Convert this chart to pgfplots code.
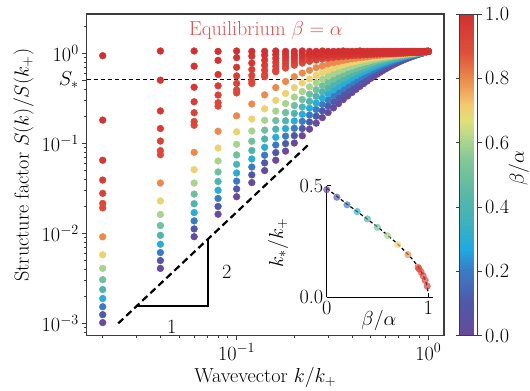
\RequirePackage{fix-cm}
\documentclass[border=0pt]{standalone}
\usepackage{pgfplots}
\usepackage{pgfplotstable}
\pgfplotsset{compat=1.18}

\definecolor{eqred}{RGB}{221,82,82}
\definecolor{spine}{RGB}{60,60,60}

% spectral-like map for beta/alpha
\pgfplotsset{
  colormap={spec}{[1pt]
    rgb255(0pt)=(104,74,156)
    rgb255(10pt)=(80,88,168)
    rgb255(20pt)=(60,122,196)
    rgb255(27pt)=(30,170,226)
    rgb255(35pt)=(62,176,188)
    rgb255(45pt)=(92,185,165)
    rgb255(55pt)=(132,200,150)
    rgb255(62pt)=(182,216,140)
    rgb255(67pt)=(226,224,120)
    rgb255(72pt)=(243,200,110)
    rgb255(80pt)=(234,138,76)
    rgb255(88pt)=(222,80,60)
    rgb255(100pt)=(210,48,48)
  }
}

% S(k)/S(k_+) for each beta/alpha (columns), wavevector k/k_+ in first column
\pgfplotstableread{
k b00 b10 b20 b30 b40 b50 b60 b70 b80 b90 b91 b93 b95 b97 b99 b100
0.02 0.00102 0.00125 0.00153 0.00189 0.00238 0.00306 0.00408 0.00577 0.00915 0.0192 0.0215 0.0278 0.0391 0.0649 0.181 0.94
0.04 0.00408 0.00499 0.00612 0.00757 0.00950 0.0122 0.0162 0.0229 0.0362 0.0747 0.0830 0.106 0.146 0.229 0.502 1.06
0.06 0.00918 0.0112 0.01375 0.0170 0.0213 0.0273 0.0362 0.0509 0.0794 0.1586 0.1748 0.2188 0.2894 0.4197 0.7194 1.06
0.08 0.0163 0.0199 0.0244 0.0301 0.0377 0.0481 0.0636 0.0886 0.1360 0.2587 0.2824 0.3437 0.4349 0.5811 0.8343 1.05
0.10 0.0255 0.0311 0.0380 0.0468 0.0584 0.0743 0.0975 0.1343 0.2019 0.3626 0.3915 0.4629 0.5607 0.6990 0.8951 1.06
0.12 0.0366 0.0446 0.0545 0.0670 0.0832 0.1053 0.1369 0.1863 0.2732 0.4613 0.4920 0.5662 0.6602 0.7806 0.9296 1.05
0.14 0.0498 0.0606 0.0738 0.0903 0.1116 0.1401 0.1804 0.2416 0.3451 0.5487 0.5799 0.6508 0.7359 0.8371 0.9505 1.05
0.16 0.0649 0.0788 0.0957 0.1167 0.1435 0.1789 0.2278 0.3000 0.4158 0.6235 0.6529 0.7180 0.7925 0.8757 0.9635 1.06
0.18 0.0819 0.0992 0.1201 0.1456 0.1777 0.2196 0.2764 0.3578 0.4855 0.6853 0.7128 0.7712 0.8354 0.9034 0.9725 1.05
0.20 0.1007 0.1217 0.1467 0.1770 0.2147 0.2627 0.3264 0.4146 0.5489 0.7369 0.7612 0.8119 0.8669 0.9234 0.9786 1.05
0.22 0.1214 0.1461 0.1753 0.2101 0.2527 0.3065 0.3756 0.4691 0.6035 0.7788 0.8004 0.8450 0.8913 0.9386 0.9827 1.06
0.24 0.1437 0.1723 0.2057 0.2450 0.2923 0.3511 0.4240 0.5195 0.6460 0.8126 0.8325 0.8710 0.9105 0.9496 0.9860 1.05
0.26 0.1676 0.2001 0.2375 0.2807 0.3322 0.3943 0.4706 0.5678 0.6919 0.8408 0.8577 0.8915 0.9252 0.9583 0.9885 1.05
0.28 0.1929 0.2293 0.2705 0.3176 0.3727 0.4367 0.5144 0.6098 0.7257 0.8641 0.8785 0.9078 0.9373 0.9649 0.9904 1.06
0.30 0.2197 0.2596 0.3043 0.3545 0.4118 0.4781 0.5566 0.6508 0.7622 0.8829 0.8959 0.9215 0.9476 0.9702 0.9920 1.05
0.32 0.2473 0.2909 0.3386 0.3919 0.4502 0.5176 0.5947 0.6844 0.7866 0.8985 0.9102 0.9324 0.9545 0.9752 0.9932 1.05
0.34 0.2762 0.3228 0.3731 0.4280 0.4879 0.5556 0.6318 0.7185 0.8120 0.9120 0.9215 0.9407 0.9605 0.9784 0.9942 1.05
0.36 0.3058 0.3552 0.4076 0.4636 0.5241 0.5908 0.6638 0.7449 0.8328 0.9232 0.9321 0.9482 0.9655 0.9811 0.9950 1.06
0.38 0.3361 0.3878 0.4419 0.4985 0.5589 0.6245 0.6954 0.7731 0.8520 0.9325 0.9404 0.9543 0.9697 0.9834 0.9957 1.05
0.40 0.3671 0.4206 0.4755 0.5323 0.5915 0.6546 0.7216 0.7936 0.8676 0.9408 0.9480 0.9598 0.9735 0.9854 0.9962 1.05
0.42 0.3980 0.4531 0.5086 0.5650 0.6232 0.6833 0.7490 0.8140 0.8825 0.9471 0.9537 0.9642 0.9763 0.9870 0.9967 1.05
0.44 0.4291 0.4852 0.5407 0.5960 0.6523 0.7077 0.7709 0.8324 0.8946 0.9535 0.9590 0.9684 0.9792 0.9885 0.9971 1.06
0.46 0.4603 0.5168 0.5717 0.6260 0.6805 0.7348 0.7936 0.8492 0.9060 0.9586 0.9635 0.9719 0.9814 0.9898 0.9974 1.05
0.48 0.4914 0.5476 0.6018 0.6539 0.7056 0.7580 0.8108 0.8640 0.9152 0.9636 0.9677 0.9753 0.9836 0.9910 0.9977 1.05
0.50 0.5250 0.5811 0.6343 0.6853 0.7353 0.7853 0.8337 0.8830 0.9303 0.9733 0.9775 0.9839 0.9914 0.9981 1.0043 1.05
0.52 0.5557 0.6110 0.6624 0.7108 0.7578 0.8042 0.8503 0.8958 0.9388 0.9776 0.9817 0.9872 0.9938 0.9998 1.0052 1.05
0.54 0.5857 0.6399 0.6894 0.7358 0.7806 0.8242 0.8658 0.9075 0.9467 0.9814 0.9850 0.9901 0.9960 1.0013 1.0063 1.05
0.56 0.6151 0.6675 0.7150 0.7585 0.8002 0.8403 0.8800 0.9181 0.9534 0.9851 0.9881 0.9929 0.9982 1.0028 1.0074 1.05
0.58 0.6438 0.6943 0.7394 0.7812 0.8202 0.8581 0.8929 0.9279 0.9601 0.9885 0.9911 0.9954 1.0003 1.0044 1.0086 1.05
0.60 0.6717 0.7201 0.7627 0.8013 0.8370 0.8719 0.9051 0.9367 0.9659 0.9919 0.9941 0.9981 1.0024 1.0060 1.0097 1.05
0.62 0.6988 0.7447 0.7846 0.8214 0.8548 0.8875 0.9163 0.9452 0.9713 0.9948 0.9969 1.0005 1.0043 1.0076 1.0110 1.05
0.64 0.7250 0.7681 0.8056 0.8389 0.8692 0.8991 0.9268 0.9530 0.9760 0.9978 0.9997 1.0029 1.0063 1.0093 1.0122 1.05
0.66 0.7502 0.7907 0.8255 0.8569 0.8854 0.9128 0.9365 0.9605 0.9815 1.0008 1.0025 1.0053 1.0083 1.0110 1.0136 1.05
0.68 0.7741 0.8121 0.8444 0.8724 0.8985 0.9230 0.9457 0.9675 0.9864 1.0037 1.0052 1.0077 1.0103 1.0127 1.0150 1.05
0.70 0.7973 0.8326 0.8622 0.8888 0.9127 0.9353 0.9543 0.9739 0.9913 1.0064 1.0077 1.0100 1.0124 1.0145 1.0165 1.05
0.72 0.8192 0.8519 0.8791 0.9024 0.9239 0.9441 0.9625 0.9801 0.9958 1.0091 1.0103 1.0123 1.0144 1.0163 1.0181 1.05
0.74 0.8408 0.8706 0.8952 0.9170 0.9367 0.9551 0.9702 0.9861 0.9996 1.0116 1.0128 1.0145 1.0164 1.0181 1.0197 1.05
0.76 0.8612 0.8882 0.9106 0.9290 0.9466 0.9629 0.9776 0.9919 1.0039 1.0141 1.0151 1.0170 1.0185 1.0200 1.0214 1.05
0.78 0.8809 0.9054 0.9250 0.9428 0.9582 0.9730 0.9845 0.9972 1.0079 1.0169 1.0178 1.0194 1.0206 1.0220 1.0232 1.05
0.80 0.8996 0.9207 0.9390 0.9540 0.9670 0.9800 0.9913 1.0024 1.0118 1.0199 1.0206 1.0219 1.0230 1.0241 1.0251 1.05
0.82 0.9176 0.9363 0.9522 0.9662 0.9781 0.9892 0.9979 1.0076 1.0154 1.0226 1.0232 1.0244 1.0253 1.0263 1.0271 1.05
0.84 0.9347 0.9512 0.9649 0.9760 0.9866 0.9957 1.0043 1.0128 1.0191 1.0253 1.0259 1.0268 1.0277 1.0285 1.0292 1.05
0.86 0.9514 0.9652 0.9770 0.9874 0.9968 1.0042 1.0101 1.0176 1.0229 1.0283 1.0287 1.0295 1.0301 1.0308 1.0314 1.05
0.88 0.9671 0.9790 0.9887 0.9965 1.0044 1.0102 1.0161 1.0223 1.0268 1.0313 1.0316 1.0323 1.0327 1.0333 1.0337 1.05
0.90 0.9822 0.9921 0.9997 1.0070 1.0134 1.0185 1.0219 1.0269 1.0304 1.0341 1.0344 1.0349 1.0353 1.0357 1.0361 1.05
0.92 0.9968 1.0043 1.0105 1.0151 1.0200 1.0245 1.0278 1.0316 1.0341 1.0370 1.0372 1.0377 1.0380 1.0384 1.0386 1.05
0.94 1.0108 1.0159 1.0209 1.0252 1.0286 1.0322 1.0334 1.0359 1.0381 1.0402 1.0404 1.0407 1.0409 1.0411 1.0412 1.05
0.96 1.0244 1.0275 1.0312 1.0330 1.0348 1.0376 1.0390 1.0405 1.0420 1.0435 1.0436 1.0438 1.0439 1.0440 1.0440 1.05
0.98 1.0376 1.0386 1.0408 1.0425 1.0435 1.0449 1.0445 1.0452 1.0460 1.0467 1.0468 1.0469 1.0470 1.0470 1.0470 1.05
1.00 1.0500 1.0500 1.0500 1.0500 1.0500 1.0500 1.0500 1.0500 1.0500 1.0500 1.0500 1.0500 1.0500 1.0500 1.0500 1.05
}\sdata

% crossing wavevector k_*/k_+ where S = S_*
\pgfplotstableread{
b ks
0.00 0.482
0.10 0.448
0.20 0.414
0.30 0.384
0.40 0.351
0.50 0.313
0.60 0.276
0.70 0.236
0.80 0.191
0.90 0.134
0.91 0.127
0.93 0.113
0.95 0.096
0.97 0.076
0.99 0.050
}\kstar

\pgfplotstableread{
b ks
0.00 0.488
0.10 0.452
0.20 0.417
0.30 0.384
0.40 0.350
0.50 0.315
0.60 0.278
0.70 0.238
0.80 0.193
0.85 0.167
0.90 0.137
0.93 0.115
0.95 0.098
0.97 0.077
0.98 0.064
0.99 0.047
0.995 0.034
0.998 0.020
}\kcurve

\newcommand{\bigfont}{\fontsize{20.3}{24}\selectfont}

\pgfplotsset{
  sfac/.style={only marks, mark=*, mark size=3.4bp, scatter,
    scatter/use mapped color={draw=mapped color, fill=mapped color}},
}

\begin{document}
\begin{tikzpicture}[font=\bigfont]
\path[use as bounding box] (-86.7bp,-55.3bp) rectangle (443.3bp,335.7bp);
\begin{axis}[
  at={(0,0)}, anchor=south west,
  scale only axis, width=357.3bp, height=321.7bp,
  xmode=log, ymode=log,
  xmin=0.0165, xmax=1.208,
  ymin=7.3e-4, ymax=2.73,
  xtick={0.1,1},
  minor xtick={0.02,0.03,0.04,0.05,0.06,0.07,0.08,0.09,0.2,0.3,0.4,0.5,0.6,0.7,0.8,0.9},
  ytick={0.001,0.01,0.1,1},
  minor ytick={0.0008,0.0009,0.002,0.003,0.004,0.005,0.006,0.007,0.008,0.009,0.02,0.03,0.04,0.05,0.06,0.07,0.08,0.09,0.2,0.3,0.4,0.5,0.6,0.7,0.8,0.9,2},
  extra y ticks={0.505}, extra y tick labels={$S_*$},
  tick pos=left, tick align=outside,
  major tick length=4.5bp, minor tick length=2.6bp,
  every tick/.style={spine, line width=0.9bp},
  axis line style={spine, line width=1.2bp},
  tick label style={font=\bigfont},
  label style={font=\bigfont},
  xlabel={Wavevector $k/k_+$},
  ylabel={Structure factor $S(k)/S(k_+)$},
  xlabel style={at={(axis description cs:0.5,-0.13)}, anchor=center},
  ylabel style={at={(axis description cs:-0.177,0.53)}, anchor=center},
  point meta min=0, point meta max=1,
  colormap name=spec,
  colorbar,
  colorbar style={
    at={(parent axis.north east)}, anchor=north west, xshift=7bp,
    width=18bp,
    ytick={0,0.2,0.4,0.6,0.8,1},
    yticklabel style={font=\bigfont, /pgf/number format/.cd, fixed, fixed zerofill, precision=1},
    ylabel={$\beta/\alpha$},
    ylabel style={at={(axis description cs:3.3,0.52)}, anchor=center, font=\bigfont},
    tick align=outside, major tick length=4bp,
    every tick/.style={spine, line width=0.8bp},
    axis line style={spine, line width=0.8bp},
  },
]
% threshold S_*
\addplot[black, line width=1bp, dash pattern=on 4.5bp off 2.5bp] coordinates {(0.0165,0.505) (1.208,0.505)};
% k^2 guide and slope triangle
\addplot[black, line width=2.2bp, dash pattern=on 7bp off 4bp] coordinates {(0.0241,0.001) (0.2413,0.1001)};
\addplot[black, line width=1.8bp] coordinates {(0.0301,0.001556) (0.0706,0.001556) (0.0706,0.00857)};
\node at (axis cs:0.0458,0.00092) {1};
\node at (axis cs:0.0887,0.00374) {2};

\addplot[sfac, point meta=0.0]  table[x=k, y=b00]  {\sdata};
\addplot[sfac, point meta=0.1]  table[x=k, y=b10]  {\sdata};
\addplot[sfac, point meta=0.2]  table[x=k, y=b20]  {\sdata};
\addplot[sfac, point meta=0.3]  table[x=k, y=b30]  {\sdata};
\addplot[sfac, point meta=0.4]  table[x=k, y=b40]  {\sdata};
\addplot[sfac, point meta=0.5]  table[x=k, y=b50]  {\sdata};
\addplot[sfac, point meta=0.6]  table[x=k, y=b60]  {\sdata};
\addplot[sfac, point meta=0.7]  table[x=k, y=b70]  {\sdata};
\addplot[sfac, point meta=0.8]  table[x=k, y=b80]  {\sdata};
\addplot[sfac, point meta=0.9]  table[x=k, y=b90]  {\sdata};
\addplot[sfac, point meta=0.91] table[x=k, y=b91]  {\sdata};
\addplot[sfac, point meta=0.93] table[x=k, y=b93]  {\sdata};
\addplot[sfac, point meta=0.95] table[x=k, y=b95]  {\sdata};
\addplot[sfac, point meta=0.97] table[x=k, y=b97]  {\sdata};
\addplot[sfac, point meta=0.99] table[x=k, y=b99]  {\sdata};
\addplot[sfac, point meta=1.0]  table[x=k, y=b100] {\sdata};

\node[text=eqred] at (axis cs:0.142,1.77) {Equilibrium $\beta=\alpha$};
\end{axis}

\begin{axis}[
  at={(240bp,38.4bp)}, anchor=south west,
  scale only axis, width=106.6bp, height=111.7bp,
  xmin=0, xmax=1.05, ymin=0, ymax=0.5,
  axis x line=bottom, axis y line=left,
  axis line style={-, black, line width=1.3bp},
  xtick={0,1}, xticklabels={0,1},
  ytick={0,0.5}, yticklabels={0.0,0.5},
  tick align=inside, major tick length=4bp,
  every tick/.style={black, line width=0.9bp},
  tick label style={font=\bigfont},
  label style={font=\bigfont},
  xlabel={$\beta/\alpha$}, ylabel={$k_*/k_+$},
  xlabel style={at={(axis description cs:0.49,-0.205)}, anchor=center},
  ylabel style={at={(axis description cs:-0.457,0.486)}, anchor=center},
  clip=false,
  colormap name=spec,
  point meta min=0, point meta max=1,
]
\addplot[only marks, mark=*, mark size=3.3bp, scatter, point meta=explicit,
  scatter/use mapped color={draw=mapped color, fill=mapped color},
  every mark/.append style={opacity=0.65}]
  table[x=b, y=ks, meta=b] {\kstar};
\addplot[black, line width=1.2bp, dash pattern=on 3.5bp off 2.5bp] table[x=b, y=ks] {\kcurve};
\end{axis}
\end{tikzpicture}
\end{document}
